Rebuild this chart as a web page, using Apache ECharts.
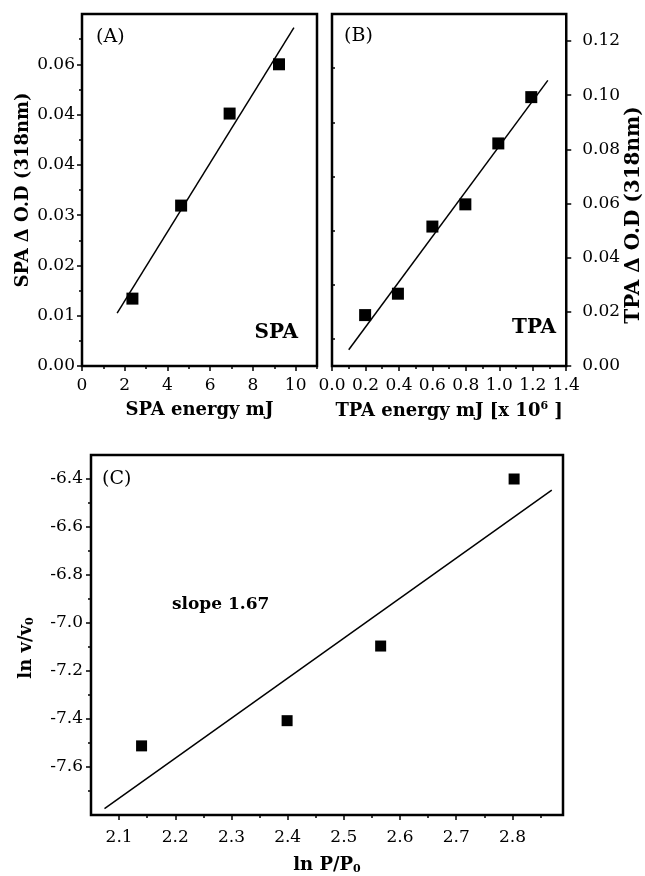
<!DOCTYPE html>
<html>
<head>
<meta charset="utf-8">
<script src="https://cdn.jsdelivr.net/npm/echarts@6/dist/echarts.min.js"></script>
<style>
  html, body { margin: 0; padding: 0; background: #fff; }
  #chart { width: 645px; height: 876px; }
</style>
</head>
<body>
<div id="chart"></div>
<script>
const chart = echarts.init(document.getElementById("chart"));

const FONT = "DejaVu Serif";

// ==========================
// DATA
// ==========================

// (A) single photon absorption
const spaEnergy = [2.36, 4.64, 6.91, 9.22];
const spaOD = [0.0134, 0.0319, 0.0502, 0.060];
const spaFitEnergy = [1.645, 9.92];
const spaFitOD = [0.0105, 0.0673];
const spaXTicks = [0, 2, 4, 6, 8, 10];
const spaXMinor = [0, 1, 2, 3, 4, 5, 6, 7, 8, 9, 10, 11];
const spaYTicks = [0, 0.01, 0.02, 0.03, 0.04, 0.05, 0.06];
const spaYLabels = ["0.00", "0.01", "0.02", "0.03", "0.04", "0.04", "0.06"];
const spaYMinor = [0.005, 0.015, 0.025, 0.035, 0.045, 0.055, 0.065];

// (B) two photon absorption
const tpaEnergy = [0.198, 0.394, 0.6, 0.797, 0.994, 1.191];
const tpaOD = [0.0188, 0.0267, 0.0515, 0.0597, 0.0822, 0.0993];
const tpaFitEnergy = [0.1, 1.29];
const tpaFitOD = [0.006, 0.1055];
const tpaXTicks = [0, 0.2, 0.4, 0.6, 0.8, 1.0, 1.2, 1.4];
const tpaXLabels = ["0.0", "0.2", "0.4", "0.6", "0.8", "1.0", "1.2", "1.4"];
const tpaXMinor = [0.1, 0.3, 0.5, 0.7, 0.9, 1.1, 1.3];
const tpaYTicks = [0, 0.02, 0.04, 0.06, 0.08, 0.10, 0.12];
const tpaYLabels = ["0.00", "0.02", "0.04", "0.06", "0.08", "0.10", "0.12"];
const tpaYMinor = [0.01, 0.03, 0.05, 0.07, 0.09, 0.11];

// (C) ln v/v0 vs ln P/P0
const lnP = [2.14, 2.399, 2.5655, 2.803];
const lnV = [-7.512, -7.407, -7.096, -6.4];
const lnFitP = [2.074, 2.87];
const lnFitV = [-7.773, -6.446];
const lnXTicks = [2.1, 2.2, 2.3, 2.4, 2.5, 2.6, 2.7, 2.8];
const lnXMinor = [2.15, 2.25, 2.35, 2.45, 2.55, 2.65, 2.75, 2.85];
const lnYTicks = [-7.6, -7.4, -7.2, -7.0, -6.8, -6.6, -6.4];
const lnYLabels = ["-7.6", "-7.4", "-7.2", "-7.0", "-6.8", "-6.6", "-6.4"];
const lnYMinor = [-7.7, -7.5, -7.3, -7.1, -6.9, -6.7, -6.5];

const zip = (xs, ys) => xs.map((x, i) => [x, ys[i]]);

// ==========================
// AXES
// ==========================

// every direction gets two axes: one for the long labelled ticks,
// one for the short minor ticks
function axisPair(o) {
  const labels = o.labels || o.ticks.map(String);
  const major = {
    type: "value",
    gridIndex: o.grid,
    position: o.position,
    min: o.min,
    max: o.max,
    axisLine: { show: true, onZero: false, lineStyle: { color: "#000", width: 2 } },
    axisTick: {
      show: true, inside: false, length: 5, customValues: o.ticks,
      lineStyle: { color: "#000", width: 1.5 }
    },
    minorTick: { show: false },
    splitLine: { show: false },
    axisLabel: {
      show: true,
      customValues: o.ticks,
      margin: o.margin,
      color: "#000",
      fontFamily: FONT,
      fontSize: 17,
      formatter: v => {
        const i = o.ticks.findIndex(t => Math.abs(t - v) < 1e-9);
        return i < 0 ? "" : labels[i];
      }
    },
    name: o.name,
    nameLocation: "middle",
    nameGap: o.nameGap,
    nameTextStyle: {
      color: "#000",
      fontFamily: FONT,
      fontWeight: "bold",
      fontSize: o.nameSize || 18,
      padding: o.namePad || 0,
      rich: {
        sub: { fontFamily: FONT, fontWeight: "bold", fontSize: 11, padding: [8, 0, 0, 0] },
        sup: { fontFamily: FONT, fontWeight: "bold", fontSize: 11, padding: [0, 0, 9, 0] }
      }
    }
  };
  const minor = {
    type: "value",
    gridIndex: o.grid,
    position: o.position,
    min: o.min,
    max: o.max,
    axisLine: { show: false },
    axisTick: {
      show: true, inside: false, length: 3, customValues: o.minor,
      lineStyle: { color: "#000", width: 1.5 }
    },
    axisLabel: { show: false },
    splitLine: { show: false }
  };
  return [major, minor];
}

const xAxes = [
  ...axisPair({ grid: 0, position: "bottom", min: 0, max: 11, ticks: spaXTicks,
    minor: spaXMinor, margin: 11, name: "SPA energy mJ", nameGap: 35 }),
  ...axisPair({ grid: 1, position: "bottom", min: 0, max: 1.4, ticks: tpaXTicks,
    labels: tpaXLabels, minor: tpaXMinor, margin: 11,
    name: "TPA energy mJ [x 10{sup|6} ]", nameGap: 35 }),
  ...axisPair({ grid: 2, position: "bottom", min: 2.05, max: 2.89, ticks: lnXTicks,
    minor: lnXMinor, margin: 14, name: "ln P/P{sub|0}", nameGap: 41 })
];

const yAxes = [
  ...axisPair({ grid: 0, position: "left", min: 0, max: 0.07, ticks: spaYTicks,
    labels: spaYLabels, minor: spaYMinor, margin: 7,
    name: "SPA \u0394 O.D (318nm)", nameGap: 50 }),
  ...axisPair({ grid: 1, position: "right", min: 0, max: 0.13, ticks: tpaYTicks,
    labels: tpaYLabels, minor: tpaYMinor, margin: 16,
    name: "TPA \u0394 O.D (318nm)", nameGap: 56, nameSize: 20, namePad: [0, 50, 0, 0] }),
  ...axisPair({ grid: 2, position: "left", min: -7.8, max: -6.3, ticks: lnYTicks,
    labels: lnYLabels, minor: lnYMinor, margin: 8,
    name: "ln v/v{sub|0}", nameGap: 55, namePad: [0, 0, 0, -26] })
];

// ==========================
// SERIES
// ==========================

function points(data, xi, yi, size) {
  return {
    type: "scatter", xAxisIndex: xi, yAxisIndex: yi, data,
    symbol: "rect", symbolSize: size,
    itemStyle: { color: "#000", opacity: 1 }, silent: true
  };
}

function fitLine(data, xi, yi) {
  return {
    type: "line", xAxisIndex: xi, yAxisIndex: yi, data,
    symbol: "none", lineStyle: { color: "#000", width: 1.5 }, silent: true
  };
}

const box = { show: true, borderColor: "#000", borderWidth: 2.5, backgroundColor: "transparent" };

function note(text, x, y, opts) {
  return {
    type: "text", x, y, silent: true,
    style: Object.assign({
      text, fill: "#000", font: `18px "${FONT}"`,
      textAlign: "left", textVerticalAlign: "middle"
    }, opts || {})
  };
}

chart.setOption({
  animation: false,
  backgroundColor: "#fff",
  grid: [
    { left: 82, top: 14, width: 235, height: 352, ...box },
    { left: 332, top: 14, width: 236, height: 352, ...box },
    { left: 91, top: 455, width: 472, height: 361, ...box }
  ],
  xAxis: xAxes,
  yAxis: yAxes,
  series: [
    points(zip(spaEnergy, spaOD), 0, 0, 12),
    fitLine(zip(spaFitEnergy, spaFitOD), 0, 0),
    points(zip(tpaEnergy, tpaOD), 2, 2, 12),
    fitLine(zip(tpaFitEnergy, tpaFitOD), 2, 2),
    points(zip(lnP, lnV), 4, 4, 11),
    fitLine(zip(lnFitP, lnFitV), 4, 4)
  ],
  graphic: [
    note("(A)", 96, 37, { font: `19px "${FONT}"` }),
    note("SPA", 298, 333, { font: `bold 20px "${FONT}"`, textAlign: "right" }),
    note("(B)", 344, 36, { font: `19px "${FONT}"` }),
    note("TPA", 556, 328, { font: `bold 20px "${FONT}"`, textAlign: "right" }),
    note("(C)", 102, 479, { font: `19px "${FONT}"` }),
    note("slope 1.67", 172, 605, { font: `bold 17px "${FONT}"` })
  ]
});
</script>
</body>
</html>
